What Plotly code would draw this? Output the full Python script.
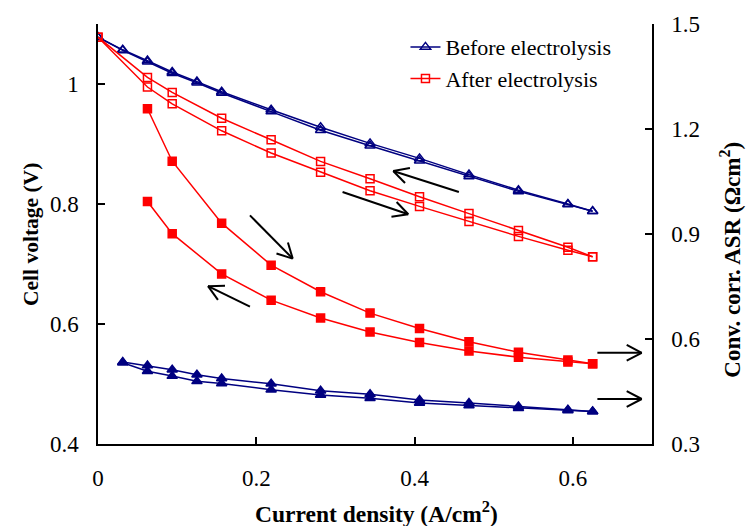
import math
import plotly.graph_objects as go

# Current steps (A/cm2): 1 A increments on a 32 cm2 cell
j_before = [0, 1/32, 2/32, 3/32, 4/32, 5/32, 7/32, 9/32, 11/32, 13/32, 15/32, 17/32, 19/32, 20/32]
v_before_up = [1.078, 1.057, 1.039, 1.020, 1.004, 0.987, 0.957, 0.928, 0.901, 0.876, 0.849, 0.823, 0.800, 0.788]
v_before_down = [1.078, 1.056, 1.037, 1.018, 1.002, 0.985, 0.954, 0.923, 0.897, 0.872, 0.846, 0.821, 0.799, 0.788]

j_asr_before = [1/32, 2/32, 3/32, 4/32, 5/32, 7/32, 9/32, 11/32, 13/32, 15/32, 17/32, 19/32, 20/32]
asr_before_up = [0.534, 0.524, 0.512, 0.498, 0.487, 0.472, 0.452, 0.442, 0.426, 0.417, 0.407, 0.398, 0.393]
asr_before_down = [0.532, 0.508, 0.494, 0.479, 0.473, 0.455, 0.440, 0.431, 0.417, 0.410, 0.402, 0.396, 0.393]

j_after = [0, 2/32, 3/32, 5/32, 7/32, 9/32, 11/32, 13/32, 15/32, 17/32, 19/32, 20/32]
v_after_up = [1.078, 1.011, 0.986, 0.943, 0.907, 0.871, 0.842, 0.812, 0.784, 0.756, 0.728, 0.712]
v_after_down = [1.078, 0.995, 0.967, 0.922, 0.885, 0.853, 0.822, 0.796, 0.771, 0.746, 0.723, 0.712]

j_asr_after = [2/32, 3/32, 5/32, 7/32, 9/32, 11/32, 13/32, 15/32, 17/32, 19/32, 20/32]
asr_after_up = [1.258, 1.108, 0.931, 0.811, 0.735, 0.674, 0.630, 0.592, 0.562, 0.540, 0.529]
asr_after_down = [0.993, 0.901, 0.786, 0.711, 0.660, 0.620, 0.590, 0.566, 0.548, 0.534, 0.529]

# Sweep-direction arrows: (tail_x, tail_V, head_x, head_V) on the voltage axis
arrows = [
    (0.456, 0.820, 0.373, 0.855),
    (0.309, 0.820, 0.392, 0.783),
    (0.192, 0.781, 0.246, 0.709),
    (0.192, 0.629, 0.139, 0.663),
    (0.631, 0.552, 0.687, 0.552),
    (0.631, 0.475, 0.687, 0.475),
]

NAVY = "#000080"
RED = "#FF0000"
SERIF = "Liberation Serif, Times New Roman, serif"

W, H = 746, 526
ML, MR, MT, MB = 98, 94, 18, 82
X_RANGE = [0, 0.7]
Y_RANGE = [0.4, 1.1]
Y2_RANGE = [0.3, 1.5]

fig = go.Figure()

def add(x, y, color, symbol, size, axis="y", name=None, legend=False):
    fig.add_trace(go.Scatter(
        x=x, y=y, mode="lines+markers", yaxis=axis, name=name, showlegend=legend,
        line=dict(color=color, width=1.5),
        marker=dict(symbol=symbol, size=size, color=color,
                    line=dict(color=color, width=1.5)),
    ))

add(j_before, v_before_up, NAVY, "triangle-up-open", 9, name="Before electrolysis", legend=True)
add(j_before, v_before_down, NAVY, "triangle-up-open", 9)
add(j_after, v_after_up, RED, "square-open", 8, name="After electrolysis", legend=True)
add(j_after, v_after_down, RED, "square-open", 8)
add(j_asr_after, asr_after_up, RED, "square", 8, axis="y2")
add(j_asr_after, asr_after_down, RED, "square", 8, axis="y2")
add(j_asr_before, asr_before_up, NAVY, "triangle-up", 9, axis="y2")
add(j_asr_before, asr_before_down, NAVY, "triangle-up", 9, axis="y2")

# Open "V" arrowheads, built in pixel space and mapped back to data units
pw, ph = W - ML - MR, H - MT - MB
sx = pw / (X_RANGE[1] - X_RANGE[0])
sy = ph / (Y_RANGE[1] - Y_RANGE[0])
arm, half = 17, math.radians(28)
for tx, ty, hx, hy in arrows:
    dx, dy = (hx - tx) * sx, (hy - ty) * sy
    ang = math.atan2(dy, dx)
    segs = [(tx, ty, hx, hy)]
    for s in (-1, 1):
        a = ang + math.pi + s * half
        segs.append((hx, hy, hx + arm * math.cos(a) / sx, hy + arm * math.sin(a) / sy))
    for x0, y0, x1, y1 in segs:
        fig.add_shape(type="line", xref="x", yref="y", x0=x0, y0=y0, x1=x1, y1=y1,
                      line=dict(color="black", width=2))

tickfont = dict(family=SERIF, size=23, color="black")
axis_common = dict(showline=True, linecolor="black", linewidth=1.5, ticks="inside",
                   ticklen=7, tickcolor="black", tickwidth=1.5, showgrid=False,
                   zeroline=False, tickfont=tickfont, ticklabelstandoff=13)

# Axis titles placed as paper-anchored annotations
titles = [
    dict(text="<b>Current density (A/cm<sup>2</sup>)</b>", x=376, y=513, angle=0, size=23.5),
    dict(text="<b>Cell voltage (V)</b>", x=31, y=232, angle=-90, size=21.5),
    dict(text="<b>Conv. corr. ASR (Ωcm<sup>2</sup>)</b>", x=731, y=257, angle=-90, size=23),
]
for t in titles:
    fig.add_annotation(
        text=t["text"], textangle=t["angle"], showarrow=False,
        xref="paper", yref="paper",
        x=(t["x"] - ML) / pw, y=(H - MB - t["y"]) / ph,
        xanchor="center", yanchor="middle",
        font=dict(family=SERIF, size=t["size"], color="black"),
    )

fig.update_layout(
    width=W, height=H,
    margin=dict(l=ML, r=MR, t=MT, b=MB),
    paper_bgcolor="white", plot_bgcolor="white",
    xaxis=dict(range=X_RANGE, dtick=0.2, tick0=0, **axis_common),
    yaxis=dict(range=Y_RANGE, dtick=0.2, tick0=0.4, **axis_common),
    yaxis2=dict(range=Y2_RANGE, dtick=0.3, tick0=0.3, tickformat=".1f", overlaying="y",
                side="right", **axis_common),
    legend=dict(x=0.555, y=0.995, xanchor="left", yanchor="top", bgcolor="rgba(0,0,0,0)",
                font=dict(family=SERIF, size=22, color="black"), tracegroupgap=0),
)

fig.write_html("out.html")
